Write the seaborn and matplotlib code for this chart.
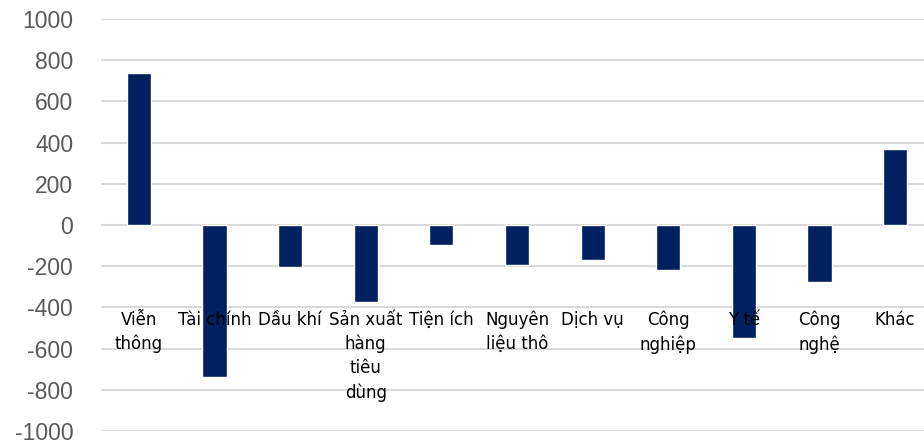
import pandas as pd
import matplotlib
matplotlib.use("Agg")
import matplotlib.pyplot as plt
import seaborn as sns

# Dữ liệu
categories = ["Viễn thông", "Tài chính", "Dầu khí", "Sản xuất hàng tiêu dùng",
              "Tiện ích", "Nguyên liệu thô", "Dịch vụ", "Công nghiệp",
              "Y tế", "Công nghệ", "Khác"]
labels = ["Viễn\nthông", "Tài chính", "Dầu khí", "Sản xuất\nhàng\ntiêu\ndùng",
          "Tiện ích", "Nguyên\nliệu thô", "Dịch vụ", "Công\nnghiệp",
          "Y tế", "Công\nnghệ", "Khác"]
values = [738, -738, -205, -375, -97, -195, -170, -218, -548, -277, 369]
y_ticks = list(range(-1000, 1001, 200))

df = pd.DataFrame({"nganh": categories, "gia_tri": values})

sns.set_theme(style="white")
plt.rcParams["font.family"] = ["DejaVu Sans"]

fig = plt.figure(figsize=(9.24, 4.42), dpi=100)
ax = fig.add_axes([0.1093, 0.0249, 0.9004, 0.932])

sns.barplot(data=df, x="nganh", y="gia_tri", color="#002060",
            width=0.32, saturation=1, ax=ax, zorder=3)

ax.set_ylim(-1000, 1000)
ax.set_xlim(-0.5, len(categories) - 0.5)
ax.set_yticks(y_ticks)
ax.set_yticklabels([str(t) for t in y_ticks], family="Liberation Sans",
                   fontsize=16.5, color="#595959")
ax.tick_params(axis="y", length=0, pad=20)
ax.set_xticks([])
ax.set_xlabel("")
ax.set_ylabel("")
ax.grid(axis="y", color="#d9d9d9", linewidth=1.5, zorder=0)
for s in ax.spines.values():
    s.set_visible(False)

# Nhãn danh mục đặt giữa biểu đồ
for i, lab in enumerate(labels):
    ax.text(i, -415, lab, ha="center", va="top", fontsize=12,
            color="black", linespacing=1.42, zorder=4)

fig.savefig("out.png", dpi=100)
